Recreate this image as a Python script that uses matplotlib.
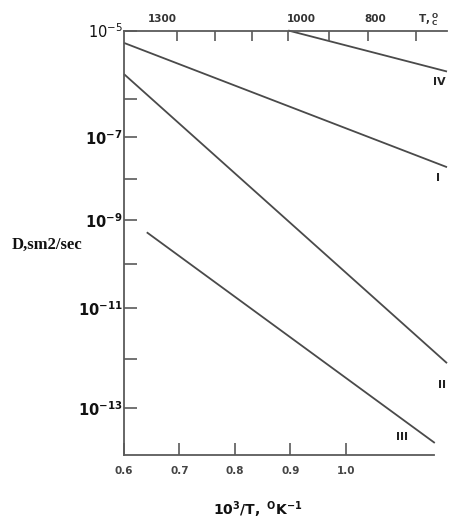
import matplotlib
matplotlib.use("Agg")
import matplotlib.pyplot as plt
from matplotlib.ticker import NullLocator
from matplotlib.transforms import blended_transform_factory

# ---- data ----
x_I = [0.600, 1.182]
D_I = [5.46e-6, 1.265e-8]
x_II = [0.600, 1.182]
D_II = [1.19e-6, 8.85e-13]
x_III = [0.641, 1.160]
D_III = [5.27e-10, 1.80e-14]
x_IV = [0.896, 1.182]
D_IV = [1.0e-5, 1.35e-6]

curve_names = ["IV", "I", "II", "III"]
curve_label_x = [1.169, 1.166, 1.173, 1.101]
curve_label_D = [8.07e-7, 7.46e-9, 3.05e-13, 2.41e-14]

bottom_ticks = [0.6, 0.7, 0.8, 0.9, 1.0]
bottom_labels = ["0.6", "0.7", "0.8", "0.9", "1.0"]

y_ticks = [1e-5, 3.53e-7, 5.52e-8, 7.11e-9, 9.61e-10, 1.12e-10, 1.31e-11, 1.09e-12, 9.95e-14]
y_labels = [r"$10^{-5}$", "", r"$\mathbf{10^{-7}}$", "", r"$\mathbf{10^{-9}}$", "",
            r"$\mathbf{10^{-11}}$", "", r"$\mathbf{10^{-13}}$"]

top_ticks = [0.6955, 0.764, 0.8306, 0.8955, 0.9694, 1.0396, 1.1261]
top_label_x = [0.6685, 0.9189, 1.0523, 1.1477]
top_labels = ["1300", "1000", "800", r"$\mathbf{T,}^{\mathbf{O}}_{\mathbf{C}}$"]

# ---- figure ----
W, H = 449, 519
fig = plt.figure(figsize=(W / 100, H / 100), dpi=100)
ax = fig.add_axes([124 / W, 64 / H, 323 / W, 424.5 / H])

line_color = "#4a4a4a"
spine_color = "#5a5a5a"

for xs, ds in [(x_I, D_I), (x_II, D_II), (x_III, D_III), (x_IV, D_IV)]:
    ax.plot(xs, ds, color=line_color, lw=1.3, solid_capstyle="butt", clip_on=False)

ax.set_yscale("log")
ax.set_ylim(1e-14, 1e-5)
ax.set_xlim(0.6, 1.182)

ax.spines["right"].set_visible(False)
for s in ["left", "bottom", "top"]:
    ax.spines[s].set_color(spine_color)
    ax.spines[s].set_linewidth(1.3)
ax.spines["bottom"].set_bounds(0.6, 1.1586)

ax.set_yticks(y_ticks)
ax.set_yticklabels(y_labels)
ax.yaxis.set_minor_locator(NullLocator())
ax.tick_params(axis="y", direction="in", length=9, width=1.2, color=spine_color,
               pad=1, labelsize=10.5, labelcolor="#111111")

ax.set_xticks(bottom_ticks)
ax.set_xticklabels(bottom_labels, fontweight="bold")
ax.tick_params(axis="x", direction="in", length=9, width=1.2, color=spine_color,
               pad=8, labelsize=7.5, labelcolor="#444444")

# top temperature axis
ax2 = ax.twiny()
ax2.set_xlim(ax.get_xlim())
ax2.set_xticks(top_ticks)
ax2.set_xticklabels([])
for s in ["left", "right", "bottom", "top"]:
    ax2.spines[s].set_visible(False)
ax2.tick_params(axis="x", direction="in", length=7, width=1.2, color=spine_color)

tr = blended_transform_factory(ax.transData, ax.transAxes)
for xv, lab in zip(top_label_x, top_labels):
    ax.text(xv, 1.026, lab, transform=tr, ha="center", va="center",
            fontsize=7.5, fontweight="bold", color="#333333", clip_on=False)

for name, xv, dv in zip(curve_names, curve_label_x, curve_label_D):
    ax.text(xv, dv, name, ha="center", va="center", fontsize=8,
            fontweight="bold", color="#222222", clip_on=False)

fig.text(258 / W, 1 - 510 / H, r"$\mathbf{10^3/T,\ ^{O}K^{-1}}$", ha="center",
         va="center", fontsize=10, color="#111111")
fig.text(12 / W, 1 - 245 / H, "D,sm2/sec", ha="left", va="center",
         fontsize=12, fontweight="bold", family="Liberation Serif", color="#111111")

fig.savefig("out.png", dpi=100)
